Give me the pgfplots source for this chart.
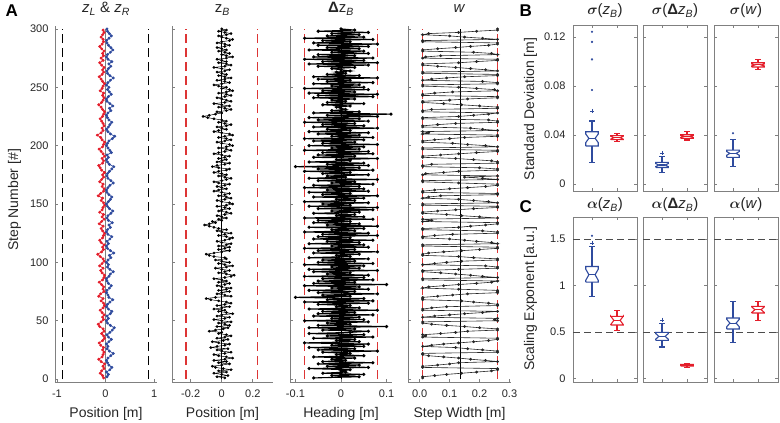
\documentclass[border=0pt]{standalone}
\usepackage{amsmath}
\usepackage{fontspec}
\setmainfont{Liberation Sans}
\usepackage{pgfplots}
\usepackage{pgfplotstable}
\pgfplotsset{compat=1.18}

\definecolor{cblue}{HTML}{2F4B9E}
\definecolor{cred}{HTML}{E41E2B}
\definecolor{dred}{HTML}{DD3535}
\definecolor{axgray}{HTML}{808080}

\newcommand\ticksize{\fontsize{11}{13}\selectfont}
\newcommand\labsize{\fontsize{14}{16}\selectfont}
\newcommand\titsize{\fontsize{15}{18}\selectfont}

% z_L (odd steps) and z_R (even steps)
\pgfplotstableread[row sep=\\]{zL\\
-0.04\\ -0.06\\ -0.11\\ -0.08\\ -0.03\\ -0.05\\ -0.02\\ -0.09\\ -0.14\\ -0.07\\ -0.05\\ -0.03\\ -0.06\\ -0.04\\ -0.10\\ -0.13\\ -0.06\\ -0.02\\ -0.04\\ -0.08\\
-0.03\\ -0.05\\ -0.12\\ -0.15\\ -0.09\\ -0.04\\ -0.06\\ -0.03\\ -0.07\\ -0.11\\ -0.05\\ -0.02\\ -0.04\\ -0.09\\ -0.05\\ -0.14\\ -0.10\\ -0.03\\ -0.05\\ -0.04\\
-0.08\\ -0.13\\ -0.06\\ -0.03\\ -0.02\\ -0.07\\ -0.10\\ -0.05\\ -0.12\\ -0.07\\ -0.03\\ -0.05\\ -0.11\\ -0.16\\ -0.08\\ -0.04\\ -0.06\\ -0.03\\ -0.09\\ -0.12\\
-0.06\\ -0.04\\ -0.02\\ -0.06\\ -0.09\\ -0.05\\ -0.13\\ -0.08\\ -0.03\\ -0.07\\ -0.04\\ -0.12\\ -0.07\\ -0.05\\ -0.02\\ -0.04\\ -0.09\\ -0.06\\ -0.15\\ -0.10\\
-0.04\\ -0.03\\ -0.07\\ -0.05\\ -0.12\\ -0.08\\ -0.04\\ -0.06\\ -0.02\\ -0.08\\ -0.11\\ -0.14\\ -0.06\\ -0.04\\ -0.07\\ -0.02\\ -0.05\\ -0.09\\ -0.13\\ -0.06\\
-0.04\\ -0.02\\ -0.07\\ -0.10\\ -0.17\\ -0.09\\ -0.05\\ -0.07\\ -0.03\\ -0.05\\ -0.08\\ -0.11\\ -0.06\\ -0.04\\ -0.02\\ -0.06\\ -0.09\\ -0.14\\ -0.08\\ -0.05\\
-0.03\\ -0.06\\ -0.04\\ -0.11\\ -0.07\\ -0.05\\ -0.02\\ -0.06\\ -0.09\\ -0.13\\ -0.07\\ -0.04\\ -0.06\\ -0.03\\ -0.08\\ -0.12\\ -0.05\\ -0.09\\ -0.04\\ -0.06\\
-0.03\\ -0.08\\ -0.12\\ -0.07\\ -0.04\\ -0.05\\ -0.09\\ -0.06\\ -0.03\\ -0.05\\
}\tblzL
\pgfplotstableread[row sep=\\]{zR\\
0.03\\ 0.06\\ 0.02\\ 0.09\\ 0.13\\ 0.07\\ 0.04\\ 0.02\\ 0.05\\ 0.11\\ 0.16\\ 0.08\\ 0.03\\ 0.05\\ 0.02\\ 0.07\\ 0.12\\ 0.06\\ 0.03\\ 0.09\\
0.14\\ 0.18\\ 0.10\\ 0.04\\ 0.02\\ 0.06\\ 0.03\\ 0.10\\ 0.13\\ 0.06\\ 0.02\\ 0.04\\ 0.09\\ 0.15\\ 0.07\\ 0.05\\ 0.02\\ 0.03\\ 0.08\\ 0.12\\
0.06\\ 0.03\\ 0.02\\ 0.07\\ 0.10\\ 0.16\\ 0.09\\ 0.04\\ 0.06\\ 0.02\\ 0.05\\ 0.11\\ 0.08\\ 0.17\\ 0.10\\ 0.04\\ 0.02\\ 0.06\\ 0.03\\ 0.09\\
0.13\\ 0.05\\ 0.02\\ 0.04\\ 0.10\\ 0.07\\ 0.14\\ 0.06\\ 0.03\\ 0.05\\ 0.11\\ 0.15\\ 0.08\\ 0.04\\ 0.02\\ 0.06\\ 0.10\\ 0.13\\ 0.07\\ 0.03\\
0.02\\ 0.05\\ 0.09\\ 0.16\\ 0.11\\ 0.05\\ 0.03\\ 0.04\\ 0.08\\ 0.13\\ 0.17\\ 0.08\\ 0.04\\ 0.02\\ 0.06\\ 0.03\\ 0.12\\ 0.09\\ 0.05\\ 0.02\\
0.04\\ 0.07\\ 0.14\\ 0.19\\ 0.10\\ 0.05\\ 0.02\\ 0.06\\ 0.09\\ 0.13\\ 0.07\\ 0.04\\ 0.02\\ 0.05\\ 0.11\\ 0.08\\ 0.15\\ 0.09\\ 0.03\\ 0.02\\
0.06\\ 0.12\\ 0.08\\ 0.04\\ 0.07\\ 0.02\\ 0.05\\ 0.10\\ 0.16\\ 0.09\\ 0.04\\ 0.03\\ 0.06\\ 0.11\\ 0.07\\ 0.13\\ 0.05\\ 0.02\\ 0.04\\ 0.10\\
0.15\\ 0.11\\ 0.06\\ 0.03\\ 0.02\\ 0.07\\ 0.12\\ 0.08\\ 0.04\\ 0.03\\
}\tblzR
% z_B, steps 1..300
\pgfplotstableread[row sep=\\]{zB\\
0.02\\ -0.03\\ 0.04\\ 0.00\\ -0.05\\ 0.03\\ -0.02\\ 0.06\\ 0.01\\ -0.04\\ -0.06\\ 0.00\\ 0.05\\ -0.02\\ 0.03\\ -0.05\\ 0.02\\ 0.07\\ 0.03\\ -0.02\\
-0.05\\ 0.02\\ 0.06\\ 0.00\\ -0.03\\ 0.04\\ -0.07\\ -0.03\\ 0.02\\ 0.05\\ -0.02\\ -0.06\\ 0.01\\ 0.04\\ -0.03\\ 0.02\\ 0.06\\ 0.03\\ -0.02\\ 0.00\\
-0.08\\ -0.04\\ 0.01\\ 0.04\\ -0.03\\ 0.05\\ 0.02\\ -0.02\\ 0.06\\ 0.00\\ -0.05\\ 0.02\\ 0.05\\ -0.03\\ 0.00\\ 0.07\\ 0.03\\ -0.02\\ 0.02\\ -0.05\\
0.00\\ 0.05\\ -0.03\\ 0.02\\ 0.06\\ 0.03\\ -0.02\\ -0.07\\ -0.10\\ -0.04\\ 0.06\\ 0.02\\ -0.03\\ 0.00\\ 0.05\\ -0.02\\ 0.03\\ 0.06\\ 0.00\\ -0.03\\
0.02\\ 0.05\\ -0.02\\ 0.03\\ 0.00\\ -0.05\\ 0.02\\ 0.06\\ 0.08\\ 0.03\\ -0.02\\ 0.02\\ 0.05\\ 0.00\\ -0.04\\ 0.03\\ 0.07\\ 0.02\\ -0.02\\ 0.05\\
0.00\\ -0.04\\ 0.03\\ 0.02\\ -0.05\\ -0.08\\ -0.10\\ -0.05\\ 0.00\\ 0.05\\ -0.02\\ 0.02\\ 0.05\\ -0.02\\ 0.03\\ 0.06\\ 0.00\\ -0.03\\ 0.02\\ 0.05\\
0.07\\ 0.03\\ -0.02\\ 0.02\\ 0.06\\ 0.00\\ -0.03\\ 0.03\\ -0.02\\ -0.05\\ -0.08\\ -0.11\\ -0.08\\ -0.04\\ -0.06\\ 0.00\\ -0.02\\ 0.03\\ 0.00\\ -0.03\\
0.02\\ 0.06\\ 0.03\\ -0.02\\ 0.00\\ 0.05\\ 0.02\\ -0.03\\ 0.03\\ 0.07\\ 0.05\\ 0.00\\ -0.03\\ 0.02\\ 0.06\\ 0.03\\ -0.02\\ 0.02\\ 0.05\\ 0.00\\
-0.05\\ -0.02\\ 0.03\\ 0.00\\ -0.03\\ 0.02\\ 0.05\\ -0.02\\ -0.05\\ 0.00\\ 0.03\\ 0.06\\ 0.02\\ -0.02\\ 0.03\\ 0.00\\ -0.05\\ -0.02\\ 0.03\\ 0.05\\
-0.02\\ -0.06\\ -0.03\\ 0.02\\ 0.05\\ -0.03\\ 0.00\\ 0.03\\ -0.02\\ 0.02\\ 0.05\\ 0.00\\ -0.05\\ -0.02\\ 0.02\\ 0.06\\ 0.03\\ -0.02\\ 0.03\\ 0.07\\
0.05\\ 0.00\\ -0.03\\ 0.02\\ 0.06\\ 0.03\\ -0.02\\ 0.02\\ 0.07\\ 0.05\\ 0.00\\ -0.05\\ -0.02\\ 0.03\\ 0.00\\ -0.03\\ 0.03\\ 0.06\\ 0.02\\ -0.02\\
0.03\\ 0.00\\ -0.05\\ -0.09\\ -0.12\\ -0.08\\ -0.04\\ 0.00\\ -0.03\\ 0.03\\ 0.06\\ 0.02\\ -0.02\\ 0.05\\ 0.00\\ -0.05\\ 0.02\\ 0.06\\ 0.03\\ 0.00\\
-0.03\\ 0.02\\ 0.06\\ 0.03\\ -0.02\\ 0.03\\ 0.07\\ 0.05\\ 0.00\\ 0.03\\ -0.02\\ -0.05\\ 0.00\\ 0.05\\ 0.02\\ -0.03\\ 0.02\\ 0.06\\ 0.02\\ -0.02\\
0.03\\ 0.00\\ -0.03\\ 0.02\\ 0.05\\ 0.00\\ -0.05\\ 0.02\\ 0.06\\ 0.03\\ -0.02\\ 0.03\\ 0.00\\ -0.03\\ 0.03\\ 0.07\\ 0.03\\ 0.00\\ 0.05\\ 0.02\\
-0.02\\ 0.03\\ 0.00\\ -0.03\\ 0.02\\ 0.05\\ 0.02\\ -0.03\\ 0.00\\ 0.05\\ 0.07\\ 0.03\\ 0.00\\ -0.02\\ 0.03\\ 0.06\\ 0.02\\ -0.02\\ 0.03\\ 0.00\\
}\tblzB
% Delta z_B, steps 1..300
\pgfplotstableread[row sep=\\]{dzB\\
-0.06\\ 0.04\\ -0.02\\ 0.05\\ -0.04\\ 0.01\\ 0.00\\ 0.02\\ -0.07\\ 0.06\\ -0.03\\ 0.04\\ -0.05\\ 0.07\\ -0.04\\ 0.01\\ -0.02\\ 0.03\\ -0.06\\ 0.05\\
-0.01\\ 0.02\\ -0.04\\ 0.08\\ -0.05\\ 0.03\\ -0.07\\ 0.05\\ -0.02\\ 0.06\\ -0.08\\ 0.04\\ -0.01\\ 0.03\\ -0.06\\ 0.07\\ -0.03\\ 0.05\\ -0.07\\ 0.02\\
0.06\\ -0.04\\ 0.03\\ -0.07\\ 0.10\\ -0.05\\ 0.02\\ -0.03\\ 0.06\\ -0.08\\ 0.05\\ -0.02\\ 0.04\\ -0.06\\ 0.07\\ -0.05\\ 0.03\\ -0.04\\ 0.08\\ -0.07\\
0.04\\ -0.01\\ 0.02\\ -0.05\\ 0.06\\ -0.08\\ 0.07\\ -0.03\\ 0.05\\ -0.10\\ 0.02\\ -0.04\\ 0.08\\ -0.05\\ 0.03\\ -0.07\\ 0.06\\ -0.02\\ 0.04\\ -0.08\\
0.10\\ -0.06\\ 0.03\\ -0.05\\ 0.07\\ -0.04\\ 0.05\\ -0.08\\ 0.06\\ -0.03\\ 0.02\\ -0.06\\ 0.08\\ -0.07\\ 0.04\\ -0.02\\ 0.05\\ -0.08\\ 0.07\\ -0.05\\
0.03\\ -0.04\\ 0.06\\ -0.07\\ 0.02\\ -0.01\\ 0.04\\ -0.06\\ 0.08\\ -0.05\\ 0.03\\ -0.08\\ 0.06\\ -0.02\\ 0.05\\ -0.07\\ 0.04\\ -0.03\\ 0.07\\ -0.06\\
0.02\\ -0.05\\ 0.08\\ -0.04\\ 0.06\\ -0.08\\ 0.03\\ -0.02\\ 0.05\\ -0.07\\ 0.08\\ -0.03\\ 0.04\\ -0.06\\ 0.02\\ -0.05\\ 0.07\\ -0.08\\ 0.05\\ -0.01\\
0.03\\ -0.06\\ 0.04\\ -0.02\\ 0.07\\ -0.05\\ 0.08\\ -0.07\\ 0.02\\ -0.04\\ 0.06\\ -0.08\\ 0.03\\ -0.01\\ 0.05\\ -0.06\\ 0.08\\ -0.04\\ 0.02\\ -0.07\\
0.06\\ -0.03\\ 0.05\\ -0.08\\ 0.04\\ -0.06\\ 0.07\\ -0.02\\ 0.03\\ -0.05\\ 0.08\\ -0.07\\ 0.01\\ -0.03\\ 0.06\\ -0.04\\ 0.02\\ -0.08\\ 0.07\\ -0.05\\
0.04\\ -0.10\\ 0.06\\ -0.03\\ 0.05\\ -0.07\\ 0.02\\ -0.01\\ 0.08\\ -0.06\\ 0.03\\ -0.05\\ 0.07\\ -0.04\\ 0.06\\ -0.08\\ 0.04\\ -0.02\\ 0.05\\ -0.07\\
0.08\\ -0.04\\ 0.03\\ -0.06\\ 0.05\\ -0.08\\ 0.07\\ -0.02\\ 0.04\\ -0.05\\ 0.06\\ -0.07\\ 0.02\\ -0.03\\ 0.08\\ -0.06\\ 0.05\\ -0.04\\ 0.03\\ -0.08\\
0.06\\ -0.05\\ 0.04\\ -0.07\\ 0.08\\ -0.03\\ 0.11\\ -0.06\\ 0.04\\ -0.02\\ 0.01\\ 0.00\\ -0.01\\ 0.02\\ -0.04\\ 0.05\\ -0.03\\ 0.01\\ -0.02\\ 0.03\\
-0.06\\ 0.07\\ -0.05\\ 0.08\\ -0.07\\ 0.03\\ -0.04\\ 0.06\\ -0.08\\ 0.05\\ -0.02\\ 0.04\\ -0.06\\ 0.07\\ -0.03\\ 0.02\\ -0.05\\ 0.08\\ -0.06\\ 0.04\\
-0.03\\ 0.01\\ -0.01\\ 0.02\\ 0.00\\ -0.02\\ 0.03\\ -0.05\\ 0.06\\ -0.07\\ 0.08\\ -0.04\\ 0.05\\ -0.08\\ 0.07\\ -0.06\\ 0.03\\ -0.05\\ 0.06\\ -0.02\\
0.05\\ -0.07\\ 0.04\\ -0.03\\ 0.06\\ -0.05\\ 0.08\\ -0.06\\ 0.02\\ -0.04\\ 0.07\\ -0.08\\ 0.05\\ -0.03\\ 0.04\\ -0.02\\ 0.06\\ -0.05\\ 0.03\\ 0.00\\
}\tbldzB
% step width w, steps 1..300
\pgfplotstableread[row sep=\\]{w\\
0.01\\ 0.01\\ 0.05\\ 0.09\\ 0.14\\ 0.19\\ 0.24\\ 0.26\\ 0.26\\ 0.01\\ 0.01\\ 0.06\\ 0.10\\ 0.13\\ 0.26\\ 0.22\\ 0.17\\ 0.13\\ 0.08\\ 0.03\\
0.01\\ 0.01\\ 0.26\\ 0.26\\ 0.21\\ 0.16\\ 0.12\\ 0.01\\ 0.04\\ 0.08\\ 0.13\\ 0.18\\ 0.23\\ 0.26\\ 0.26\\ 0.01\\ 0.02\\ 0.01\\ 0.07\\ 0.12\\
0.16\\ 0.26\\ 0.26\\ 0.20\\ 0.15\\ 0.09\\ 0.04\\ 0.01\\ 0.01\\ 0.26\\ 0.25\\ 0.26\\ 0.01\\ 0.05\\ 0.10\\ 0.15\\ 0.21\\ 0.26\\ 0.01\\ 0.01\\
0.04\\ 0.09\\ 0.26\\ 0.26\\ 0.23\\ 0.18\\ 0.14\\ 0.01\\ 0.01\\ 0.01\\ 0.06\\ 0.11\\ 0.16\\ 0.26\\ 0.26\\ 0.26\\ 0.13\\ 0.01\\ 0.03\\ 0.08\\
0.13\\ 0.19\\ 0.24\\ 0.26\\ 0.01\\ 0.01\\ 0.26\\ 0.21\\ 0.17\\ 0.12\\ 0.07\\ 0.01\\ 0.01\\ 0.13\\ 0.26\\ 0.26\\ 0.22\\ 0.01\\ 0.05\\ 0.09\\
0.14\\ 0.26\\ 0.26\\ 0.18\\ 0.13\\ 0.01\\ 0.01\\ 0.03\\ 0.08\\ 0.14\\ 0.20\\ 0.26\\ 0.26\\ 0.01\\ 0.01\\ 0.26\\ 0.24\\ 0.19\\ 0.15\\ 0.10\\
0.01\\ 0.01\\ 0.05\\ 0.11\\ 0.26\\ 0.26\\ 0.21\\ 0.01\\ 0.01\\ 0.13\\ 0.17\\ 0.22\\ 0.26\\ 0.26\\ 0.01\\ 0.04\\ 0.01\\ 0.26\\ 0.20\\ 0.14\\
0.09\\ 0.01\\ 0.01\\ 0.06\\ 0.12\\ 0.18\\ 0.26\\ 0.26\\ 0.01\\ 0.01\\ 0.26\\ 0.23\\ 0.18\\ 0.13\\ 0.01\\ 0.03\\ 0.07\\ 0.26\\ 0.26\\ 0.01\\
0.01\\ 0.05\\ 0.10\\ 0.16\\ 0.22\\ 0.26\\ 0.26\\ 0.13\\ 0.01\\ 0.01\\ 0.26\\ 0.21\\ 0.15\\ 0.26\\ 0.01\\ 0.02\\ 0.08\\ 0.13\\ 0.26\\ 0.26\\
0.20\\ 0.01\\ 0.01\\ 0.04\\ 0.26\\ 0.26\\ 0.24\\ 0.18\\ 0.12\\ 0.01\\ 0.01\\ 0.07\\ 0.13\\ 0.19\\ 0.26\\ 0.26\\ 0.01\\ 0.01\\ 0.26\\ 0.22\\
0.16\\ 0.11\\ 0.01\\ 0.01\\ 0.05\\ 0.10\\ 0.15\\ 0.26\\ 0.26\\ 0.01\\ 0.03\\ 0.01\\ 0.26\\ 0.21\\ 0.17\\ 0.01\\ 0.01\\ 0.06\\ 0.12\\ 0.26\\
0.26\\ 0.23\\ 0.01\\ 0.01\\ 0.13\\ 0.18\\ 0.23\\ 0.26\\ 0.01\\ 0.01\\ 0.04\\ 0.26\\ 0.26\\ 0.20\\ 0.14\\ 0.08\\ 0.01\\ 0.01\\ 0.10\\ 0.16\\
0.26\\ 0.26\\ 0.01\\ 0.01\\ 0.05\\ 0.11\\ 0.26\\ 0.25\\ 0.19\\ 0.13\\ 0.01\\ 0.01\\ 0.26\\ 0.26\\ 0.21\\ 0.01\\ 0.04\\ 0.09\\ 0.15\\ 0.26\\
0.26\\ 0.01\\ 0.01\\ 0.26\\ 0.22\\ 0.17\\ 0.12\\ 0.06\\ 0.01\\ 0.01\\ 0.13\\ 0.19\\ 0.26\\ 0.26\\ 0.01\\ 0.02\\ 0.07\\ 0.26\\ 0.24\\ 0.18\\
0.01\\ 0.01\\ 0.06\\ 0.12\\ 0.17\\ 0.23\\ 0.26\\ 0.26\\ 0.01\\ 0.01\\ 0.26\\ 0.21\\ 0.15\\ 0.10\\ 0.01\\ 0.03\\ 0.13\\ 0.19\\ 0.26\\ 0.26\\
}\tblw

% step number column (row index) for each series
\pgfplotstablecreatecol[expr={2*\pgfplotstablerow+1}]{step}{\tblzL}
\pgfplotstablecreatecol[expr={2*\pgfplotstablerow+2}]{step}{\tblzR}
\pgfplotstablecreatecol[expr={\pgfplotstablerow+1}]{step}{\tblzB}
\pgfplotstablecreatecol[expr={\pgfplotstablerow+1}]{step}{\tbldzB}
\pgfplotstablecreatecol[expr={\pgfplotstablerow+1}]{step}{\tblw}

\pgfplotsset{
  common/.style={
    scale only axis, tick align=inside, major tick length=3pt,
    axis line style={draw=axgray, line width=0.6pt},
    tick style={draw=axgray, line width=0.6pt},
    tick label style={font=\ticksize, text=black!85},
    yticklabel style={anchor=east, xshift=-3pt},
    xticklabel style={anchor=base, yshift=-16pt},
    yticklabels={}, scaled ticks=false,
  },
  Apanel/.style={common,
    height=356pt, ymin=-2.5, ymax=302.5, ytick={0,50,...,300},
    axis x line*=bottom, axis y line*=left,
    xlabel style={at={(axis description cs:0.5,0)}, anchor=base, yshift=-36pt, font=\labsize, text=black!85},
    every axis title/.style={at={(axis description cs:0.5,1)}, anchor=base, yshift=13pt, font=\titsize, text=black!85},
  },
  Bpanel/.style={common,
    width=64pt, xmin=0.24, xmax=2.8, xtick={1,2}, xticklabels={},
    yticklabel style={xshift=-1pt},
  },
  Bsd/.style={Bpanel, height=166pt, ymin=-0.0057, ymax=0.1298, ytick={0,0.04,0.08,0.12},
    every axis title/.style={at={(axis description cs:0.5,1)}, anchor=base, yshift=10pt, font=\titsize, text=black!85}},
  Cal/.style={Bpanel, height=165pt, ymin=-0.04, ymax=1.735, ytick={0,0.5,1,1.5},
    every axis title/.style={at={(axis description cs:0.5,1)}, anchor=base, yshift=8pt, font=\titsize, text=black!85}},
}

% notched box: color, x, q1, notch low, median, notch high, q3, lower whisker, upper whisker
\newcommand{\nbox}[9]{%
  \pgfmathsetmacro\bxl{#2-0.25}\pgfmathsetmacro\bxr{#2+0.25}%
  \pgfmathsetmacro\bnl{#2-0.125}\pgfmathsetmacro\bnr{#2+0.125}%
  \pgfmathsetmacro\bcl{#2-0.12}\pgfmathsetmacro\bcr{#2+0.12}%
  \addplot[#1, line width=1.1pt] coordinates {(\bxl,#3) (\bxl,#4) (\bnl,#5) (\bxl,#6) (\bxl,#7) (\bxr,#7) (\bxr,#6) (\bnr,#5) (\bxr,#4) (\bxr,#3) (\bxl,#3)};
  \addplot[#1, line width=1.1pt] coordinates {(\bnl,#5) (\bnr,#5)};
  \addplot[#1, line width=1.1pt] coordinates {(#2,#7) (#2,#9)};
  \addplot[#1, line width=1.1pt] coordinates {(#2,#3) (#2,#8)};
  \addplot[#1, line width=1.1pt] coordinates {(\bcl,#9) (\bcr,#9)};
  \addplot[#1, line width=1.1pt] coordinates {(\bcl,#8) (\bcr,#8)};
}

\begin{document}
\begin{tikzpicture}
\useasboundingbox (0,0) rectangle (780pt,423pt);

% ---- A: z_L & z_R
\begin{axis}[Apanel, at={(55pt,41pt)}, anchor=south west, width=102pt,
  xmin=-1.04, xmax=1.06, xtick={-1,0,1}, xticklabels={-1,0,1},
  yticklabels={0,50,100,150,200,250,300},
  xlabel={Position [m]},
  title={\textit{z}\textsubscript{\textit{L}} \& \textit{z}\textsubscript{\textit{R}}}]
\addplot[axgray, line width=0.6pt] coordinates {(0,0) (0,300)};
\addplot[black, line width=0.9pt, dash pattern=on 9pt off 5pt] coordinates {(-0.88,0) (-0.88,300)};
\addplot[black, line width=0.9pt, dash pattern=on 9pt off 5pt] coordinates {(0.88,0) (0.88,300)};
\addplot[cred, line width=0.7pt, mark=*, mark size=1.1pt] table[x=zL, y=step] {\tblzL};
\addplot[cblue, line width=0.7pt, mark=*, mark size=1.1pt] table[x=zR, y=step] {\tblzR};
\end{axis}

% ---- A: z_B
\begin{axis}[Apanel, at={(172pt,41pt)}, anchor=south west, width=101pt,
  xmin=-0.32, xmax=0.33, xtick={-0.2,0,0.2}, xticklabels={-0.2,0,0.2},
  xlabel={Position [m]},
  title={z\textsubscript{\textit{B}}}]
\addplot[black, line width=0.5pt] coordinates {(0,0) (0,300)};
\addplot[black, line width=0.5pt, mark=*, mark size=1.1pt] table[x=zB, y=step] {\tblzB};
\addplot[color=dred, line width=1.2pt, dash pattern=on 9pt off 5pt] coordinates {(-0.23,0) (-0.23,300)};
\addplot[color=dred, line width=1.2pt, dash pattern=on 9pt off 5pt] coordinates {(0.23,0) (0.23,300)};
\end{axis}

% ---- A: Delta z_B
\begin{axis}[Apanel, at={(290pt,41pt)}, anchor=south west, width=102pt,
  xmin=-0.112, xmax=0.112, xtick={-0.1,0,0.1}, xticklabels={-0.1,0,0.1},
  xlabel={Heading [m]},
  title={\textbf{Δ}z\textsubscript{\textit{B}}}]
\addplot[black, line width=0.5pt] coordinates {(0,0) (0,300)};
\addplot[black, line width=1.1pt, mark=*, mark size=1pt] table[x=dzB, y=step] {\tbldzB};
\addplot[color=dred, line width=1.2pt, dash pattern=on 9pt off 5pt] coordinates {(-0.08,0) (-0.08,300)};
\addplot[color=dred, line width=1.2pt, dash pattern=on 9pt off 5pt] coordinates {(0.08,0) (0.08,300)};
\end{axis}

% ---- A: w
\begin{axis}[Apanel, at={(408pt,41pt)}, anchor=south west, width=103pt,
  xmin=-0.039, xmax=0.305, xtick={0,0.1,0.2,0.3}, xticklabels={0.0,0.1,0.2,0.3},
  xlabel={Step Width [m]},
  title={\textit{w}}]
\addplot[black, line width=0.8pt] coordinates {(0.135,0) (0.135,300)};
\addplot[black!85, line width=0.6pt, mark=*, mark size=1.1pt] table[x=w, y=step] {\tblw};
\addplot[color=dred, line width=1.2pt, dash pattern=on 9pt off 5pt] coordinates {(0.01,0) (0.01,300)};
\addplot[color=dred, line width=1.2pt, dash pattern=on 9pt off 5pt] coordinates {(0.26,0) (0.26,300)};
\end{axis}

% ---- B: standard deviations
\begin{axis}[Bsd, at={(573pt,232pt)}, anchor=south west,
  yticklabels={0,0.04,0.08,0.12},
  title={$\boldsymbol{\sigma}$(\textit{z}\textsubscript{\textit{B}})}]
\nbox{cblue}{1}{0.0310}{0.0338}{0.0373}{0.0408}{0.0427}{0.0177}{0.0514}
\nbox{cred}{2}{0.0362}{0.0366}{0.0378}{0.0390}{0.0395}{0.0348}{0.0414}
\addplot[cblue, only marks, mark=+, mark size=2pt] coordinates {(1,0.0596)};
\addplot[cblue, only marks, mark=*, mark size=0.9pt] coordinates {(1,0.0767) (1,0.1017) (1,0.1160) (1,0.1243)};
\end{axis}
\begin{axis}[Bsd, at={(643pt,232pt)}, anchor=south west,
  title={$\boldsymbol{\sigma}$(\textbf{Δ}\textit{z}\textsubscript{\textit{B}})}]
\nbox{cblue}{1}{0.0135}{0.0143}{0.0155}{0.0167}{0.0177}{0.0092}{0.0225}
\nbox{cred}{2}{0.0372}{0.0380}{0.0388}{0.0396}{0.0402}{0.0359}{0.0427}
\addplot[cblue, only marks, mark=+, mark size=2pt] coordinates {(1,0.0250)};
\end{axis}
\begin{axis}[Bsd, at={(714pt,232pt)}, anchor=south west,
  title={$\boldsymbol{\sigma}$(\textit{w})}]
\nbox{cblue}{1}{0.0218}{0.0235}{0.0250}{0.0265}{0.0277}{0.0141}{0.0360}
\nbox{cred}{2}{0.0955}{0.0964}{0.0972}{0.0980}{0.0990}{0.0938}{0.1017}
\addplot[cblue, only marks, mark=*, mark size=0.9pt] coordinates {(1,0.0414)};
\end{axis}

% ---- C: scaling exponents
\begin{axis}[Cal, at={(573pt,41pt)}, anchor=south west,
  yticklabels={0,0.5,1,1.5},
  title={$\boldsymbol{\alpha}$(\textit{z}\textsubscript{\textit{B}})}]
\addplot[black!70, line width=0.6pt, dash pattern=on 7pt off 4pt] coordinates {(0.24,0.5) (2.8,0.5)};
\addplot[black!70, line width=0.6pt, dash pattern=on 7pt off 4pt] coordinates {(0.24,1.5) (2.8,1.5)};
\nbox{cblue}{1}{1.035}{1.054}{1.114}{1.174}{1.203}{0.881}{1.420}
\nbox{cred}{2}{0.573}{0.578}{0.623}{0.668}{0.666}{0.512}{0.727}
\addplot[cblue, only marks, mark=+, mark size=2pt] coordinates {(1,1.455)};
\addplot[cblue, only marks, mark=*, mark size=0.9pt] coordinates {(1,1.533)};
\end{axis}
\begin{axis}[Cal, at={(643pt,41pt)}, anchor=south west,
  title={$\boldsymbol{\alpha}$(\textbf{Δ}\textit{z}\textsubscript{\textit{B}})}]
\addplot[black!70, line width=0.6pt, dash pattern=on 7pt off 4pt] coordinates {(0.24,0.5) (2.8,0.5)};
\addplot[black!70, line width=0.6pt, dash pattern=on 7pt off 4pt] coordinates {(0.24,1.5) (2.8,1.5)};
\nbox{cblue}{1}{0.408}{0.421}{0.451}{0.481}{0.494}{0.336}{0.594}
\nbox{cred}{2}{0.130}{0.134}{0.139}{0.144}{0.148}{0.120}{0.155}
\addplot[cblue, only marks, mark=+, mark size=2pt] coordinates {(1,0.630)};
\end{axis}
\begin{axis}[Cal, at={(714pt,41pt)}, anchor=south west,
  title={$\boldsymbol{\alpha}$(\textit{w})}]
\addplot[black!70, line width=0.6pt, dash pattern=on 7pt off 4pt] coordinates {(0.24,0.5) (2.8,0.5)};
\addplot[black!70, line width=0.6pt, dash pattern=on 7pt off 4pt] coordinates {(0.24,1.5) (2.8,1.5)};
\nbox{cblue}{1}{0.530}{0.554}{0.594}{0.634}{0.648}{0.386}{0.827}
\nbox{cred}{2}{0.702}{0.708}{0.738}{0.768}{0.773}{0.623}{0.827}
\end{axis}

% labels and panel letters
\node[rotate=90, anchor=base, font=\labsize, text=black!85] at (18pt,223pt) {Step Number [\#]};
\node[rotate=90, anchor=base, font=\labsize, text=black!85] at (534pt,314pt) {Standard Deviation [m]};
\node[rotate=90, anchor=base, font=\labsize, text=black!85] at (534pt,124pt) {Scaling Exponent [a.u.]};
\node[anchor=base west, font=\bfseries\fontsize{17}{20}\selectfont] at (2pt,406pt) {A};
\node[anchor=base west, font=\bfseries\fontsize{17}{20}\selectfont] at (516pt,406pt) {B};
\node[anchor=base west, font=\bfseries\fontsize{17}{20}\selectfont] at (516pt,210pt) {C};
\end{tikzpicture}
\end{document}
